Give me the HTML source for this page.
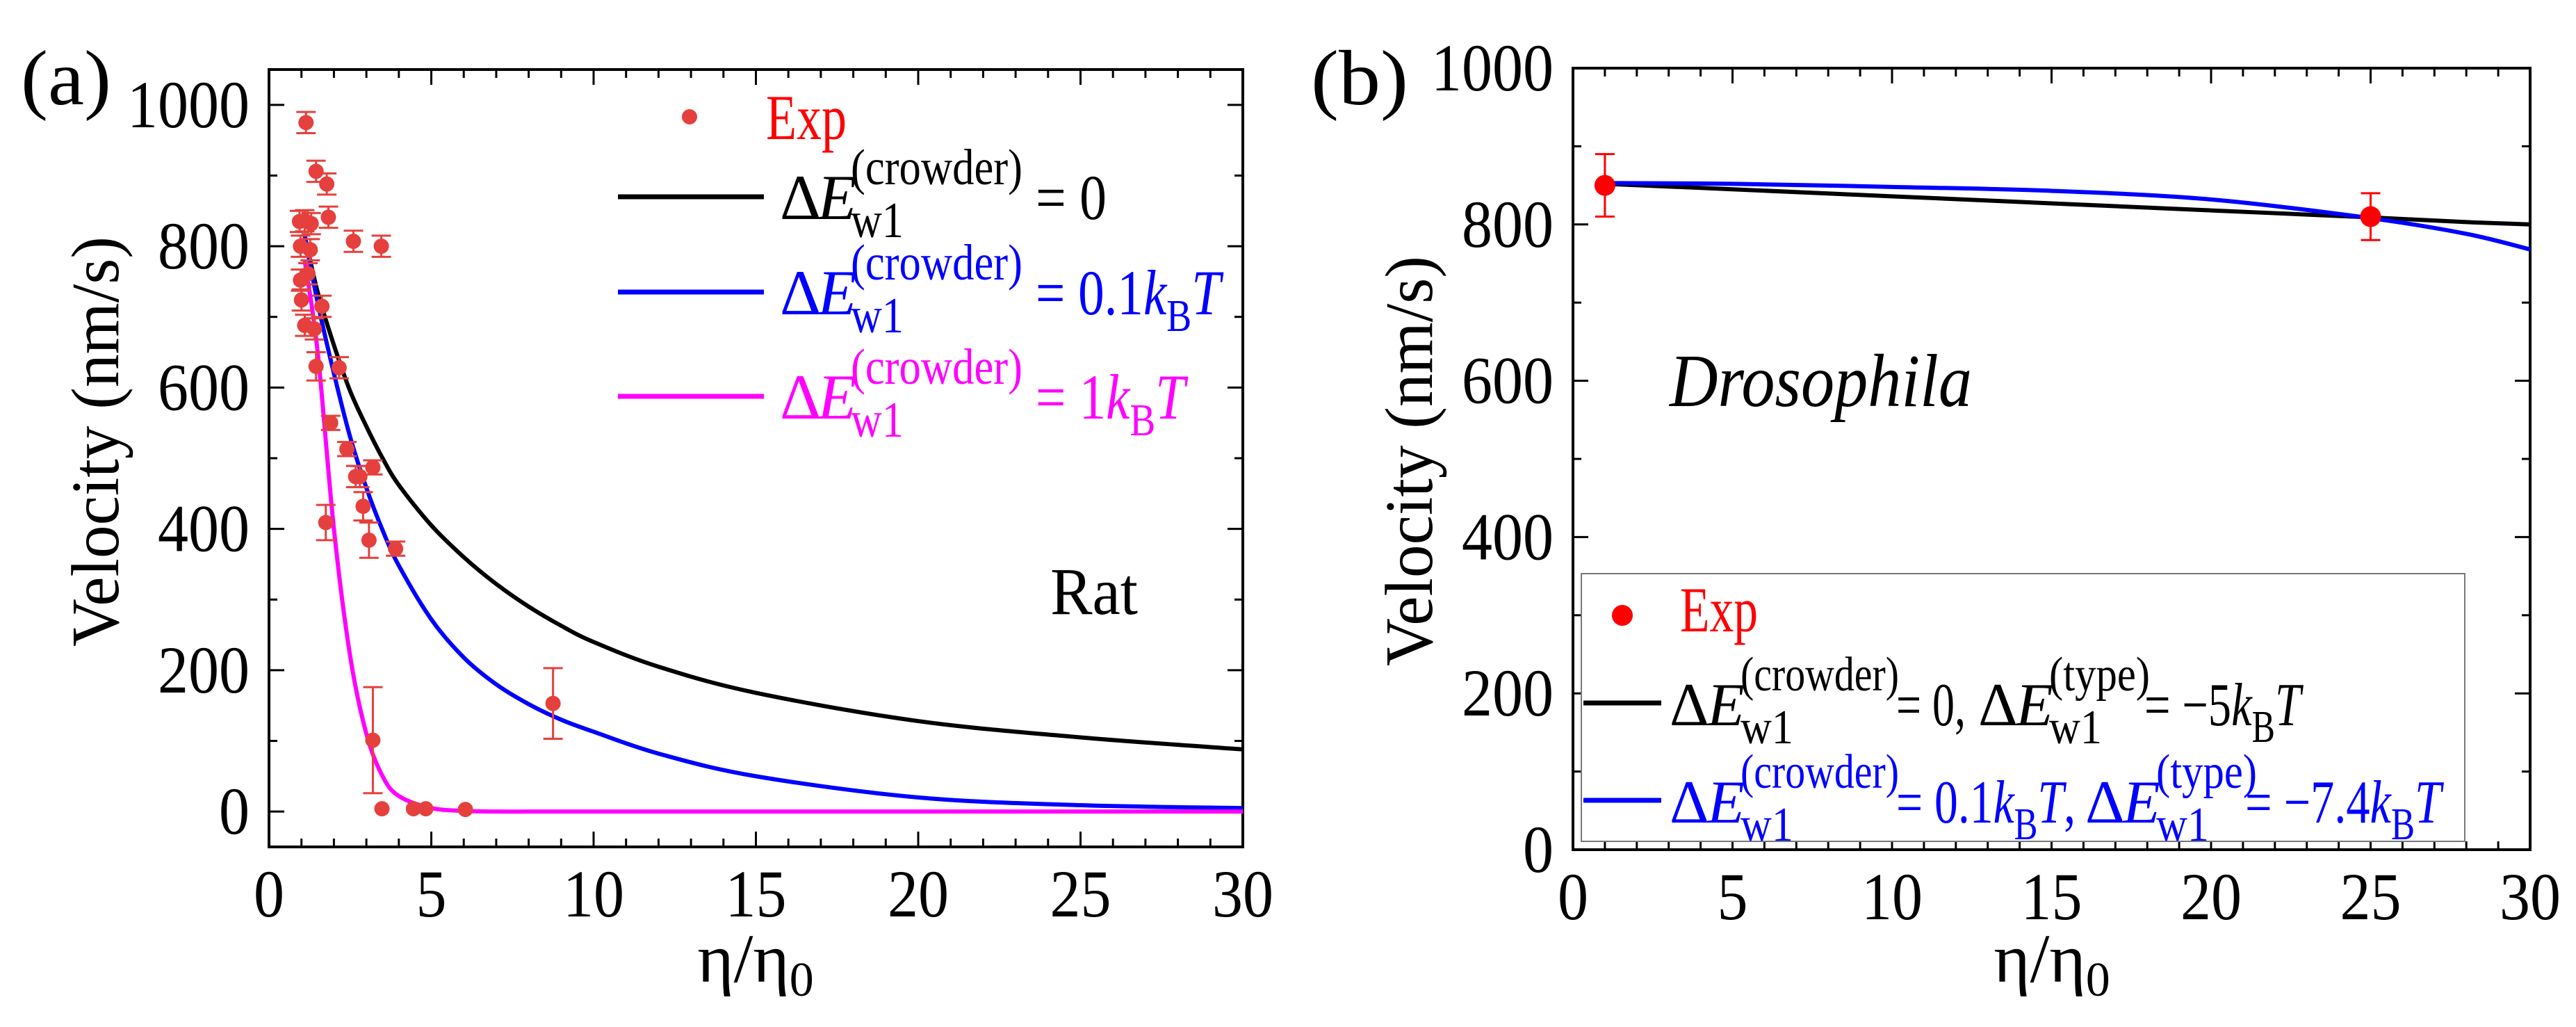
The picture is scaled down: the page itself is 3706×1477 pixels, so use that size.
<!DOCTYPE html>
<html><head><meta charset="utf-8"><style>
html,body{margin:0;padding:0;background:#fff}
svg, svg text, svg tspan{font-family:"Liberation Serif","DejaVu Serif","Times New Roman",serif !important}
</style></head><body>
<svg id="fig" width="3706" height="1472" viewBox="0 0 3706 1472" xmlns="http://www.w3.org/2000/svg" style="font-family:'Liberation Serif','DejaVu Serif',serif">
<g id="pa"></g>
<g id="pb"></g>
</svg>
<script>
// ---- Panel (a) data ----
const aExpX = [1.14,1.45,1.78,1.83,0.94,1.1,1.3,2.6,3.46,0.97,1.27,0.97,1.0,1.2,1.1,1.4,1.63,1.45,2.16,1.9,2.4,2.67,2.8,3.2,2.9,1.75,3.08,3.9,3.2,8.75,3.48,4.45,4.83,6.05];
const aExpY = [975,906,888,841,835,836,832,807,800,800,795,752,724,761,688,683,715,630,628,550,513,474,474,487,432,409,384,372,101,153,4,4,4,3];
const aExpErr = [15,15,15,15,15,15,15,15,15,15,15,15,15,15,15,15,15,20,15,10,10,15,15,10,20,25,25,10,75,50,0,0,0,0];
const aCurveX = [1.1,1.5,2,2.5,3,3.5,4,5,6,7,8,9,10,12,15,20,25,30];
const aBlack = [815,735,660,595,545,500,462,405,360,322,290,263,240,205,168,128,105,88];
const aBlue  = [815,720,620,530,458,398,348,272,218,180,152,130,113,82,50,20,9,5];
const aMag   = [780,650,400,220,110,50,22,5,1,0,0,0,0,0,0,0,0,0];
const aXTicks = [0,5,10,15,20,25,30];
const aYTicks = [0,200,400,600,800,1000];
// ---- Panel (b) data ----
const bExpX = [1,25];
const bExpY = [850,810];
const bExpErr = [40,30];
const bCurveX = [1,5,10,15,20,25,28,30];
const bBlack = [852,845,836,827,818,809,803,800];
const bBlue  = [853,852,848,843,832,808,788,768];
const bXTicks = [0,5,10,15,20,25,30];
const bYTicks = [0,200,400,600,800,1000];

const NS="http://www.w3.org/2000/svg";
const FF="font-family:'Liberation Serif','DejaVu Serif','Times New Roman',serif";
function mk(parent,tag,attrs,text){const e=document.createElementNS(NS,tag);for(const k in attrs)e.setAttribute(k,attrs[k]);if(tag==='text')e.setAttribute('style',FF);if(text!==undefined)e.textContent=text;parent.appendChild(e);return e;}
function fit(attrs,w){attrs.textLength=w;attrs.lengthAdjust='spacingAndGlyphs';return attrs;}
function smooth(pts){let d=`M${pts[0][0]},${pts[0][1]}`;for(let i=0;i<pts.length-1;i++){const p0=pts[Math.max(0,i-1)],p1=pts[i],p2=pts[i+1],p3=pts[Math.min(pts.length-1,i+2)];const c1x=p1[0]+(p2[0]-p0[0])/6,c1y=p1[1]+(p2[1]-p0[1])/6,c2x=p2[0]-(p3[0]-p1[0])/6,c2y=p2[1]-(p3[1]-p1[1])/6;d+=` C${c1x},${c1y} ${c2x},${c2y} ${p2[0]},${p2[1]}`;}return d;}

function axes(g,L,R,T,B,xmin,xmax,ymin,ymax,xt,yt,yMinorStep){
  const sx=v=>L+(v-xmin)/(xmax-xmin)*(R-L), sy=v=>B-(v-ymin)/(ymax-ymin)*(B-T);
  const fr=mk(g,'rect',{x:L,y:T,width:R-L,height:B-T,fill:'none',stroke:'#000','stroke-width':4});
  
  
  for(let v=xmin;v<=xmax;v+=1){const maj=v%5===0;const len=maj?22:12;const x=sx(v);
    mk(g,'line',{x1:x,y1:B,x2:x,y2:B-len,stroke:'#000','stroke-width':3});
    mk(g,'line',{x1:x,y1:T,x2:x,y2:T+len,stroke:'#000','stroke-width':3});}
  for(let v=Math.ceil(ymin/yMinorStep)*yMinorStep;v<=ymax;v+=yMinorStep){const maj=v%200===0;const len=maj?22:12;const y=sy(v);
    mk(g,'line',{x1:L,y1:y,x2:L+len,y2:y,stroke:'#000','stroke-width':3});
    mk(g,'line',{x1:R,y1:y,x2:R-len,y2:y,stroke:'#000','stroke-width':3});}
  xt.forEach(v=>{const s=String(v);const t=mk(g,'text',fit({x:sx(v),y:B+100,'font-size':96,'text-anchor':'middle'},s.length*44),s);
    
    });
  yt.forEach(v=>{const s=String(v);const t=mk(g,'text',fit({x:L-28,y:sy(v)+32,'font-size':96,'text-anchor':'end'},s.length*44),s);
    
    });
  return {sx,sy};
}
function curve(g,s,xs,ys,color,name){const p=mk(g,'path',{d:smooth(xs.map((x,i)=>[s.sx(x),s.sy(ys[i])])),fill:'none',stroke:color,'stroke-width':6});
  
  }
function points(g,s,xs,ys,es,color,r,name){xs.forEach((x,i)=>{const cx=s.sx(x),cy=s.sy(ys[i]);
  if(es[i]>0){const y1=s.sy(ys[i]+es[i]),y2=s.sy(ys[i]-es[i]);
    mk(g,'path',{d:`M${cx},${y1}V${y2}M${cx-14},${y1}H${cx+14}M${cx-14},${y2}H${cx+14}`,stroke:color,'stroke-width':3,fill:'none'});}
  const c=mk(g,'circle',{cx:cx,cy:cy,r:r,fill:color});
  
  });}
function term(g,x,y,color,sup,fs,supW){
  fs=fs||92;
  mk(g,'text',{x:x,y:y,'font-size':fs,fill:color},'Δ');
  mk(g,'text',{x:x+54,y:y,'font-size':fs,fill:color,'font-style':'italic'},'E');
  mk(g,'text',fit({x:x+102,y:y-50,'font-size':fs*0.8,fill:color},supW),sup);
  mk(g,'text',fit({x:x+102,y:y+26,'font-size':fs*0.8,fill:color},76),'w1');
}
function kT(t,pre){mk(t,'tspan',{},pre);mk(t,'tspan',{'font-style':'italic'},'k');mk(t,'tspan',{'font-size':66,dy:24},'B');mk(t,'tspan',{'font-style':'italic',dy:-24},'T');}
function etaLabel(g,x,y){const t=mk(g,'text',{x:x,y:y,'font-size':100,'text-anchor':'middle'});mk(t,'tspan',{},'η/η');mk(t,'tspan',{'font-size':70,dy:20},'0');return t;}

// ----- Panel A -----
const ga=document.getElementById('pa');
const sa=axes(ga,387,1788,100,1218,0,30,-50,1050,aXTicks,aYTicks,100);
curve(ga,sa,aCurveX,aBlack,'#000','curve-crowder-0');
curve(ga,sa,aCurveX,aBlue,'#0000ff','curve-crowder-0.1kT');
curve(ga,sa,aCurveX,aMag,'#ff00ff','curve-crowder-1kT');
points(ga,sa,aExpX,aExpY,aExpErr,'#e5403d',11,'exp-point');
mk(ga,'text',fit({x:30,y:150,'font-size':112},130),'(a)');
mk(ga,'text',fit({x:0,y:0,'font-size':98,'text-anchor':'middle',transform:'translate(170,635) rotate(-90)'},590),'Velocity (nm/s)');
etaLabel(ga,1087,1412);
mk(ga,'text',fit({x:1511,y:883,'font-size':96},126),'Rat');
const lga=mk(ga,'g',{});


mk(lga,'circle',{cx:992,cy:168,r:11,fill:'#e5403d'});
mk(lga,'text',fit({x:1102,y:200,'font-size':92,fill:'#ff0000'},116),'Exp');
const aEqW=[102,266,215];
[[283,'#000'],[420,'#0000ff'],[570,'#ff00ff']].forEach((r,i)=>{
  mk(lga,'line',{x1:889,y1:r[0],x2:1099,y2:r[0],stroke:r[1],'stroke-width':7});
  const by=r[0]+32;
  term(lga,1122,by,r[1],'(crowder)',92,247);
  const tt=mk(lga,'text',fit({x:1490,y:by,'font-size':92,fill:r[1]},aEqW[i]));
  if(i===0) mk(tt,'tspan',{},'= 0'); else kT(tt,i===1?'= 0.1':'= 1');
});

// ----- Panel B -----
const gb=document.getElementById('pb');
const sb=axes(gb,2263,3640,98,1222,0,30,0,1000,bXTicks,bYTicks,100);
curve(gb,sb,bCurveX,bBlack,'#000','curve-b-crowder-0');
curve(gb,sb,bCurveX,bBlue,'#0000ff','curve-b-crowder-0.1kT');
points(gb,sb,bExpX,bExpY,bExpErr,'#ff0000',15,'exp-point-b');
mk(gb,'text',fit({x:1886,y:150,'font-size':112},140),'(b)');
mk(gb,'text',fit({x:0,y:0,'font-size':98,'text-anchor':'middle',transform:'translate(2060,663) rotate(-90)'},590),'Velocity (nm/s)');
etaLabel(gb,2952,1412);
mk(gb,'text',fit({x:2402,y:584,'font-size':108,'font-style':'italic'},435),'Drosophila');
const lgb=mk(gb,'g',{});


mk(lgb,'rect',{x:2275,y:825,width:1271,height:385,fill:'#fff',stroke:'#777','stroke-width':2});
mk(lgb,'circle',{cx:2334,cy:885,r:15,fill:'#ff0000'});
mk(lgb,'text',fit({x:2417,y:908,'font-size':92,fill:'#ff0000'},112),'Exp');
// black row
mk(lgb,'line',{x1:2278,y1:1011,x2:2390,y2:1011,stroke:'#000','stroke-width':7});
term(lgb,2402,1043,'#000','(crowder)',88,228);
mk(lgb,'text',fit({x:2728,y:1043,'font-size':88,fill:'#000'},100),'= 0,');
term(lgb,2846,1043,'#000','(type)',88,145);
kT(mk(lgb,'text',fit({x:3085,y:1043,'font-size':88,fill:'#000'},225)),'= −5');
// blue row
mk(lgb,'line',{x1:2278,y1:1151,x2:2390,y2:1151,stroke:'#0000ff','stroke-width':7});
term(lgb,2402,1183,'#0000ff','(crowder)',88,228);
const bt=mk(lgb,'text',fit({x:2728,y:1183,'font-size':88,fill:'#0000ff'},258));kT(bt,'= 0.1');mk(bt,'tspan',{},',');
term(lgb,3000,1183,'#0000ff','(type)',88,145);
kT(mk(lgb,'text',fit({x:3230,y:1183,'font-size':88,fill:'#0000ff'},282)),'= −7.4');
</script>
</body></html>
